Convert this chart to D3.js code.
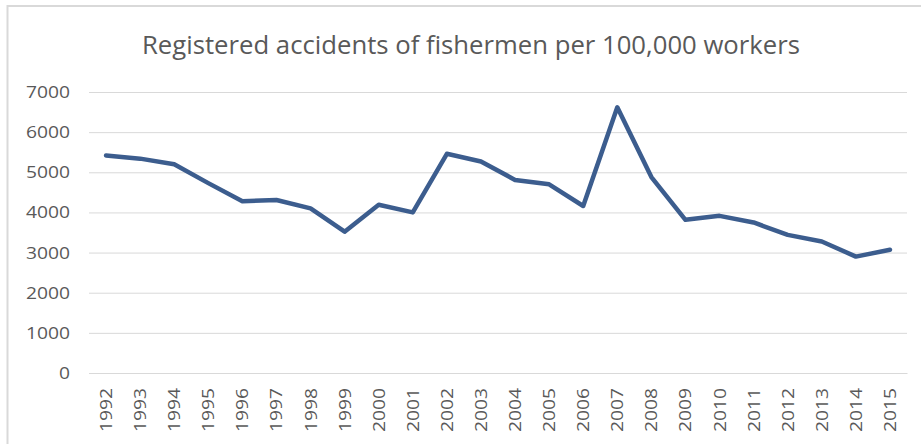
<!DOCTYPE html>
<html>
<head>
<meta charset="utf-8">
<script src="https://cdn.jsdelivr.net/npm/d3@7"></script>
<style>
  html, body { margin: 0; padding: 0; background: #fff; }
  svg { display: block; }
</style>
</head>
<body>
<svg id="chart" width="921" height="444"></svg>
<script>
const years = ["1992","1993","1994","1995","1996","1997","1998","1999","2000","2001","2002","2003","2004","2005","2006","2007","2008","2009","2010","2011","2012","2013","2014","2015"];
const accidents = [5420,5340,5200,4730,4280,4310,4100,3520,4190,4000,5460,5270,4810,4700,4160,6620,4880,3815,3915,3750,3440,3275,2900,3070];
const yTicks = [0,1000,2000,3000,4000,5000,6000,7000];
const titleText = "Registered accidents of fishermen per 100,000 workers";

(function () {
const svg = d3.select("#chart");
const W = 921, H = 444;
const pLeft = 89, pRight = 907, pTop = 92, pBottom = 373;

// outer chart border
svg.append("rect")
  .attr("x", 7.5).attr("y", 6)
  .attr("width", W + 10).attr("height", H + 10)
  .attr("fill", "#fff").attr("stroke", "#d9d9d9").attr("stroke-width", 2);

svg.append("text")
  .attr("x", 471).attr("y", 54)
  .attr("text-anchor", "middle")
  .attr("font-family", "'Open Sans', sans-serif")
  .attr("font-size", 25)
  .attr("fill", "#595959")
  .attr("textLength", 658)
  .attr("lengthAdjust", "spacingAndGlyphs")
  .text(titleText);

const x = d3.scaleBand().domain(years).range([pLeft, pRight]).paddingInner(0).paddingOuter(0);
const y = d3.scaleLinear().domain([0, 7000]).range([pBottom, pTop]);

// gridlines + y labels
const yAxis = d3.axisLeft(y).tickValues(yTicks).tickSize(-(pRight - pLeft)).tickPadding(19).tickFormat(d3.format("d"));
const gy = svg.append("g").attr("transform", `translate(${pLeft},0)`).call(yAxis);
gy.select(".domain").remove();
gy.selectAll(".tick line").attr("stroke", "#d9d9d9").attr("stroke-width", 1);
gy.selectAll(".tick text")
  .attr("font-family", "'Open Sans', sans-serif")
  .attr("font-size", 17)
  .attr("fill", "#595959")
  .attr("lengthAdjust", "spacingAndGlyphs")
  .attr("textLength", d => String(d).length * 11);

// x axis labels
const xAxis = d3.axisBottom(x).tickSize(0).tickPadding(0);
const gx = svg.append("g").attr("transform", `translate(0,${pBottom})`).call(xAxis);
gx.select(".domain").attr("stroke", "#d9d9d9");
gx.selectAll(".tick text")
  .attr("font-family", "'Open Sans', sans-serif")
  .attr("font-size", 17)
  .attr("fill", "#595959")
  .attr("text-anchor", "end")
  .attr("dy", null)
  .attr("transform", "translate(6,15) rotate(-90)")
  .attr("x", 0).attr("y", 0)
  .attr("lengthAdjust", "spacingAndGlyphs")
  .attr("textLength", 44);

// line
const line = d3.line()
  .x((d, i) => x(years[i]) + x.bandwidth() / 2)
  .y(d => y(d));
svg.append("path")
  .datum(accidents)
  .attr("d", line)
  .attr("fill", "none")
  .attr("stroke", "#3c5d8e")
  .attr("stroke-width", 4.5)
  .attr("stroke-linejoin", "round")
  .attr("stroke-linecap", "round");
})();
</script>
</body>
</html>
